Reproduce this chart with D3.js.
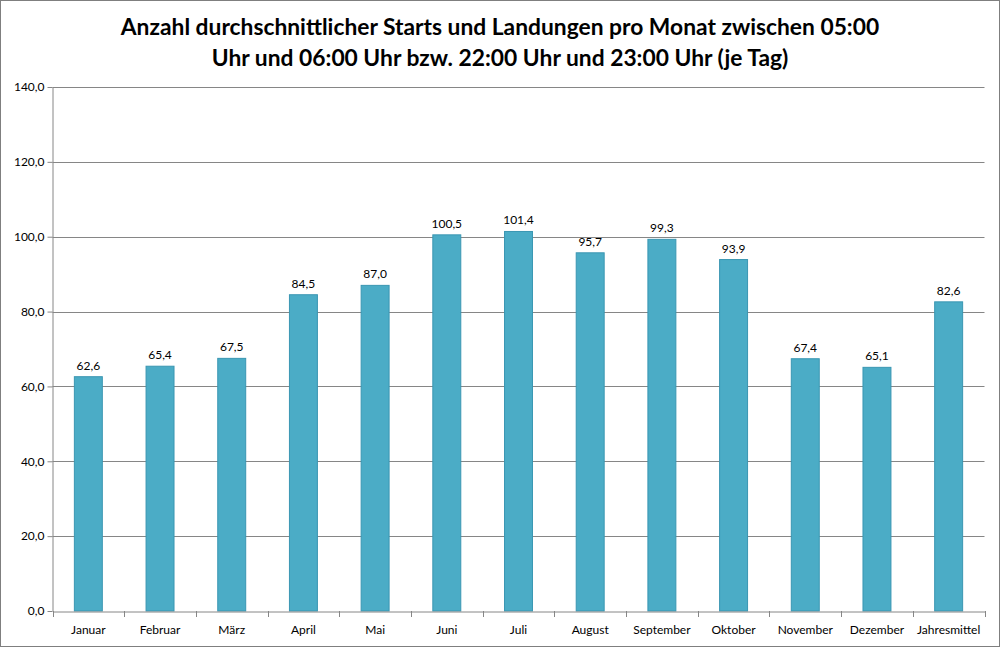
<!DOCTYPE html>
<html><head><meta charset="utf-8">
<script src="https://cdn.jsdelivr.net/npm/d3@7"></script>
<style>body{margin:0;background:#fff}svg{display:block}</style>
</head><body>
<script>
const categories = ["Januar","Februar","März","April","Mai","Juni","Juli","August","September","Oktober","November","Dezember","Jahresmittel"];
const values = [62.6,65.4,67.5,84.5,87.0,100.5,101.4,95.7,99.3,93.9,67.4,65.1,82.6];
const yTicks = [0,20,40,60,80,100,120,140];
const titleLines = ["Anzahl durchschnittlicher Starts und Landungen pro Monat zwischen 05:00","Uhr und 06:00 Uhr bzw. 22:00 Uhr und 23:00 Uhr (je Tag)"];

const W=1000,H=647;
const svg=d3.select("body").append("svg").attr("width",W).attr("height",H);
svg.append("rect").attr("x",0.5).attr("y",0.5).attr("width",W-1).attr("height",H-1).attr("fill","#fff").attr("stroke","#7f7f7f");
const m={l:52.5,r:984.5,t:87,b:611};
const x=d3.scaleBand().domain(categories).range([m.l,m.r]).paddingInner(0.61).paddingOuter(0.305);
const xb=d3.scaleBand().domain(categories).range([m.l,m.r]);
const y=d3.scaleLinear().domain([0,140]).range([m.b,m.t]);
const fmt=d=>d3.format(".1f")(d).replace(".",",");
const font="Lato, 'Open Sans', sans-serif";

svg.selectAll("text.title").data(titleLines).join("text").attr("class","title")
 .attr("x",500).attr("y",(d,i)=>35+i*31).attr("text-anchor","middle")
 .attr("font-family",font).attr("font-weight","bold").attr("font-size",22.8).attr("fill","#000").text(d=>d);

// gridlines
svg.append("g").selectAll("line").data(yTicks.filter(t=>t>0)).join("line")
 .attr("x1",m.l).attr("x2",m.r).attr("y1",d=>Math.round(y(d))+0.5).attr("y2",d=>Math.round(y(d))+0.5).attr("stroke","#868686");

// y axis
const ya=svg.append("g").attr("transform",`translate(${m.l},0)`).call(d3.axisLeft(y).tickValues(yTicks).tickFormat(fmt).tickSize(5).tickSizeOuter(0));
ya.select(".domain").attr("stroke","#868686");
ya.selectAll(".tick line").attr("stroke","#868686");
ya.selectAll("text").attr("font-family",font).attr("font-size",12).attr("fill","#000").attr("x",-8);

// bars
svg.append("g").selectAll("rect").data(values).join("rect")
 .attr("x",(d,i)=>x(categories[i])).attr("width",x.bandwidth())
 .attr("y",d=>y(d)).attr("height",d=>y(0)-y(d))
 .attr("fill","#4BACC6").attr("stroke","#3A96B2").attr("stroke-width",1);

// labels
svg.append("g").selectAll("text").data(values).join("text")
 .attr("x",(d,i)=>x(categories[i])+x.bandwidth()/2).attr("y",d=>y(d)-7)
 .attr("text-anchor","middle").attr("font-family",font).attr("font-size",12).attr("fill","#000").text(fmt);

// x axis
const xa=svg.append("g").attr("transform",`translate(0,${m.b+0.5})`).call(d3.axisBottom(xb).tickSize(0).tickSizeOuter(0));
xa.select(".domain").attr("stroke","#868686");
xa.selectAll("text").attr("font-family",font).attr("font-size",12).attr("fill","#000").attr("dy","1.6em");
const bounds=categories.map((c,i)=>xb(c)).concat([m.r]);
svg.append("g").selectAll("line").data(bounds).join("line")
 .attr("x1",d=>Math.round(d)+0.5).attr("x2",d=>Math.round(d)+0.5).attr("y1",m.b).attr("y2",m.b+6).attr("stroke","#868686");
</script>
</body></html>
